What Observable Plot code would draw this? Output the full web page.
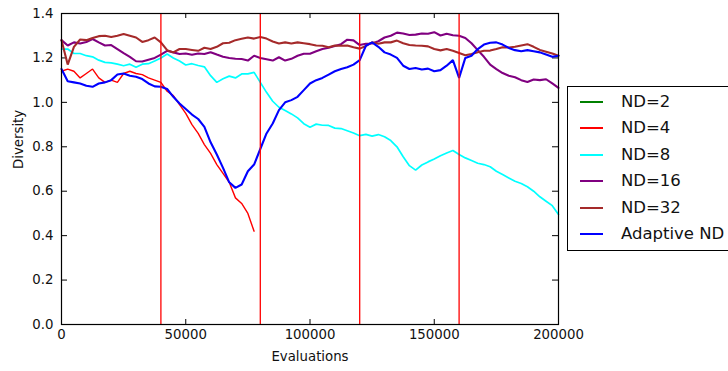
<!DOCTYPE html>
<html><head><meta charset="utf-8">
<script src="https://cdn.jsdelivr.net/npm/d3@7"></script>
<script src="https://cdn.jsdelivr.net/npm/@observablehq/plot@0.6"></script>
<style>
html,body{margin:0;padding:0;background:#fff;}
#wrap{position:relative;width:728px;height:371px;overflow:hidden;font-family:"DejaVu Sans",sans-serif;}
#legend{position:absolute;left:567px;top:86px;width:175px;height:165px;border:1px solid #000;background:#fff;box-sizing:border-box;}
.row{position:absolute;left:0;height:20px;width:170px;}
.swatch{position:absolute;left:12px;top:9px;width:23px;height:2px;}
.lab{position:absolute;left:53px;top:0;font-size:16.5px;line-height:20px;white-space:nowrap;color:#111;}
</style></head><body><div id="wrap"></div>
<script>
// Evaluation sample positions
const evals = [0,2500,5000,7500,10000,12500,15000,17500,20000,22500,25000,27500,30000,32500,35000,37500,40000,42500,45000,47500,50000,52500,55000,57500,60000,62500,65000,67500,70000,72500,75000,77500,80000,82500,85000,87500,90000,92500,95000,97500,100000,102500,105000,107500,110000,112500,115000,117500,120000,122500,125000,127500,130000,132500,135000,137500,140000,142500,145000,147500,150000,152500,155000,157500,160000,162500,165000,167500,170000,172500,175000,177500,180000,182500,185000,187500,190000,192500,195000,197500,200000];

const seriesNames = ["ND=2","ND=4","ND=8","ND=16","ND=32","Adaptive ND"];
const seriesColors = ["#008000","#ff0000","#00ffff","#800080","#a52a2a","#0000ff"];
const seriesWidths = [1.6, 1.4, 1.7, 2.1, 2.1, 2.1];

const nd2 = [];
const nd4 = [1.14,1.15,1.14,1.11,1.13,1.15,1.11,1.09,1.10,1.09,1.13,1.14,1.13,1.125,1.11,1.10,1.09,1.05,1.03,0.99,0.95,0.90,0.86,0.81,0.77,0.72,0.68,0.64,0.57,0.545,0.50,0.42];
const nd8 = [1.24,1.24,1.22,1.22,1.21,1.205,1.19,1.18,1.178,1.172,1.165,1.172,1.158,1.172,1.174,1.186,1.20,1.218,1.20,1.186,1.168,1.174,1.166,1.16,1.12,1.09,1.106,1.118,1.11,1.128,1.128,1.135,1.09,1.045,1.005,0.978,0.963,0.948,0.93,0.904,0.888,0.902,0.897,0.896,0.884,0.882,0.872,0.862,0.85,0.856,0.848,0.855,0.845,0.828,0.80,0.755,0.715,0.695,0.718,0.732,0.745,0.76,0.772,0.783,0.765,0.75,0.738,0.726,0.72,0.71,0.69,0.675,0.66,0.645,0.635,0.62,0.60,0.575,0.555,0.535,0.495];
const nd16 = [1.28,1.256,1.27,1.265,1.272,1.285,1.27,1.256,1.258,1.24,1.222,1.205,1.185,1.184,1.192,1.20,1.215,1.232,1.225,1.218,1.22,1.214,1.22,1.218,1.226,1.215,1.205,1.20,1.196,1.195,1.188,1.21,1.20,1.194,1.188,1.203,1.188,1.196,1.21,1.219,1.219,1.23,1.24,1.246,1.254,1.262,1.282,1.279,1.258,1.264,1.265,1.275,1.292,1.30,1.314,1.31,1.303,1.305,1.31,1.309,1.316,1.301,1.309,1.302,1.30,1.29,1.266,1.235,1.205,1.17,1.15,1.132,1.12,1.113,1.10,1.092,1.103,1.10,1.104,1.085,1.065];
const nd32 = [1.28,1.17,1.25,1.283,1.28,1.29,1.298,1.30,1.294,1.30,1.308,1.30,1.292,1.272,1.28,1.292,1.27,1.235,1.225,1.24,1.24,1.236,1.232,1.246,1.24,1.25,1.266,1.268,1.28,1.286,1.292,1.287,1.294,1.287,1.274,1.265,1.27,1.265,1.27,1.266,1.262,1.256,1.255,1.248,1.256,1.255,1.256,1.248,1.242,1.254,1.27,1.264,1.27,1.27,1.278,1.266,1.258,1.256,1.255,1.252,1.24,1.234,1.24,1.232,1.222,1.212,1.218,1.226,1.232,1.233,1.24,1.248,1.247,1.25,1.256,1.262,1.25,1.236,1.228,1.22,1.21];
const adaptive = [1.15,1.095,1.09,1.085,1.075,1.07,1.085,1.09,1.10,1.125,1.13,1.12,1.115,1.105,1.085,1.072,1.07,1.06,1.025,0.995,0.97,0.945,0.925,0.89,0.82,0.765,0.705,0.64,0.615,0.63,0.69,0.72,0.79,0.86,0.905,0.965,1.00,1.01,1.025,1.055,1.085,1.10,1.11,1.125,1.14,1.15,1.158,1.17,1.19,1.255,1.27,1.25,1.225,1.215,1.20,1.165,1.15,1.155,1.148,1.152,1.14,1.145,1.165,1.19,1.11,1.20,1.21,1.24,1.26,1.268,1.27,1.26,1.245,1.235,1.23,1.235,1.23,1.225,1.215,1.205,1.21];

const seriesValues = [nd2, nd4, nd8, nd16, nd32, adaptive];
const switchPoints = [40000, 80000, 120000, 160000];
const xTicks = [0, 50000, 100000, 150000, 200000];
const yTicks = [0, 0.2, 0.4, 0.6, 0.8, 1.0, 1.2, 1.4];

const toRows = vals => vals.map((v, i) => ({e: evals[i], v}));

const lineMarks = seriesValues.map((vals, i) =>
  Plot.line(toRows(vals), {x: "e", y: "v", stroke: seriesColors[i], strokeWidth: seriesWidths[i], strokeLinejoin: "miter"})
);

const chart = Plot.plot({
  width: 728, height: 371,
  marginLeft: 61, marginRight: 170, marginTop: 13, marginBottom: 47,
  x: {domain: [0, 200000]},
  y: {domain: [0, 1.4]},
  style: {fontFamily: "DejaVu Sans", fontSize: "13.3px", color: "#111", background: "white"},
  marks: [
    Plot.axisX({ticks: xTicks, tickSize: 0, tickPadding: 5, tickFormat: d3.format("d"), label: null}),
    Plot.axisY({ticks: yTicks, tickSize: 0, tickPadding: 8, tickFormat: d3.format(".1f"), label: null}),
    Plot.ruleX(xTicks, {x: d => d, insetTop: 306, stroke: "#000"}),
    Plot.ruleX(xTicks, {x: d => d, insetBottom: 306, stroke: "#000"}),
    Plot.ruleY(yTicks, {y: d => d, insetRight: 491, stroke: "#000"}),
    Plot.ruleY(yTicks, {y: d => d, insetLeft: 491, stroke: "#000"}),
    ...lineMarks,
    Plot.ruleX(switchPoints, {x: d => d, stroke: "#ff0000", strokeWidth: 1.3}),
    Plot.frame({stroke: "#000", strokeWidth: 1.2}),
    Plot.text(["Evaluations"], {text: d => d, frameAnchor: "bottom", dy: 36, fontSize: 13.3, fill: "#111"}),
    Plot.text(["Diversity"], {text: d => d, frameAnchor: "left", dx: -43, rotate: -90, fontSize: 13.3, fill: "#111"})
  ]
});

const wrap = document.getElementById("wrap");
wrap.appendChild(chart);
const legend = document.createElement("div");
legend.id = "legend";
seriesNames.forEach((name, i) => {
  const row = document.createElement("div");
  row.className = "row";
  row.style.top = (4.5 + i * 26.5) + "px";
  const sw = document.createElement("div");
  sw.className = "swatch";
  sw.style.background = seriesColors[i];
  const lab = document.createElement("div");
  lab.className = "lab";
  lab.textContent = name;
  row.appendChild(sw); row.appendChild(lab);
  legend.appendChild(row);
});
wrap.appendChild(legend);
</script></body></html>
